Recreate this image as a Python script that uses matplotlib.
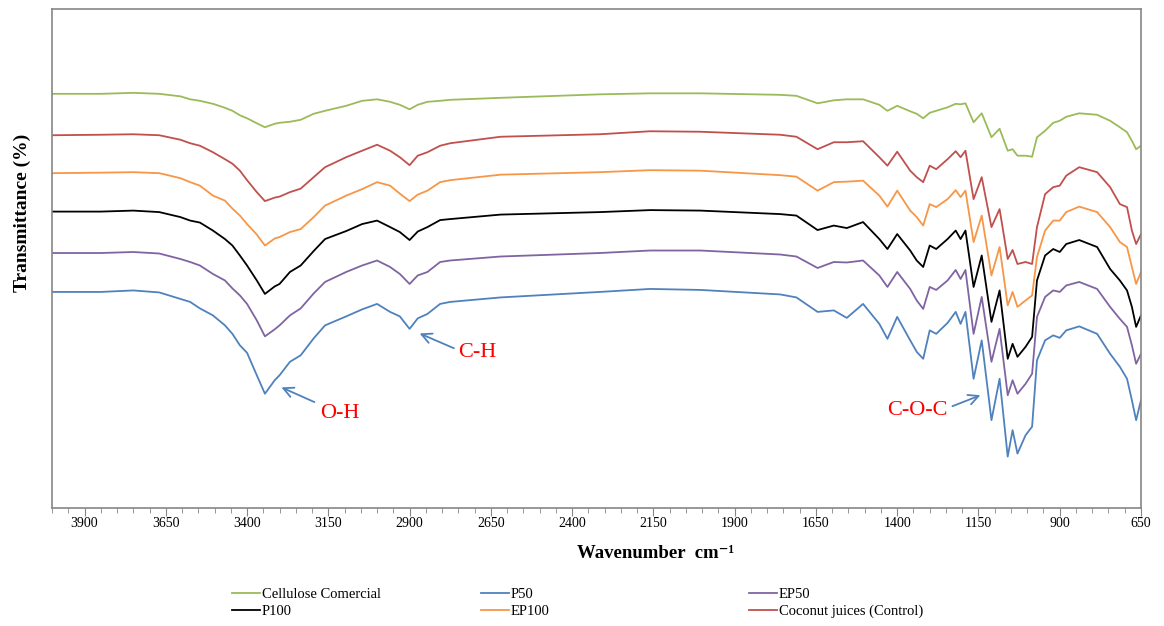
import numpy as np
import matplotlib.pyplot as plt
from matplotlib.ticker import MultipleLocator

plt.rcParams['font.family'] = ['Liberation Serif', 'DejaVu Serif']

wn = [4000, 3850, 3750, 3670, 3605, 3575, 3545, 3505, 3468, 3445,
      3422, 3400, 3370, 3345, 3315, 3300, 3268, 3235, 3195, 3160,
      3095, 3046, 3000, 2960, 2930, 2900, 2875, 2845, 2806, 2775,
      2620, 2315, 2160, 2005, 1760, 1710, 1645, 1595, 1555, 1505,
      1455, 1430, 1400, 1360, 1340, 1320, 1300, 1280, 1245, 1220,
      1205, 1190, 1165, 1140, 1110, 1085, 1060, 1045, 1030, 1005,
      985, 970, 945, 920, 900, 880, 840, 785, 745, 715,
      693, 678, 665, 650]

# transmittance (arbitrary offset scale)
cellulose = [83.0, 83.0, 83.2, 83.0, 82.5, 81.9, 81.6, 81.0, 80.2, 79.6,
             78.7, 78.1, 77.1, 76.3, 77.0, 77.2, 77.4, 77.8, 79.0, 79.6,
             80.6, 81.6, 81.9, 81.4, 80.8, 79.9, 80.8, 81.4, 81.6, 81.8,
             82.2, 82.9, 83.1, 83.1, 82.8, 82.6, 81.1, 81.7, 81.9, 81.9,
             80.8, 79.6, 80.6, 79.5, 79.0, 78.1, 79.2, 79.6, 80.3, 81.0,
             80.9, 81.1, 77.3, 79.1, 74.3, 76.0, 71.6, 71.9, 70.6, 70.6,
             70.4, 74.3, 75.6, 77.2, 77.6, 78.4, 79.1, 78.8, 77.6, 76.3,
             75.3, 73.6, 71.9, 72.6]
coconut = [74.7, 74.8, 74.9, 74.7, 73.8, 73.1, 72.6, 71.3, 69.9, 69.0,
           67.6, 65.7, 63.3, 61.5, 62.2, 62.4, 63.3, 64.0, 66.3, 68.3,
           70.3, 71.6, 72.8, 71.6, 70.3, 68.7, 70.6, 71.3, 72.6, 73.1,
           74.4, 74.9, 75.5, 75.4, 74.8, 74.4, 71.9, 73.3, 73.3, 73.5,
           70.3, 68.6, 71.4, 67.6, 66.3, 65.3, 68.6, 67.9, 69.9, 71.5,
           70.3, 71.6, 61.9, 66.3, 56.3, 59.9, 49.9, 51.7, 48.9, 49.3,
           48.9, 56.3, 62.9, 64.3, 64.6, 66.6, 68.3, 67.3, 64.3, 60.9,
           60.3, 55.6, 52.9, 54.9]
ep100 = [67.1, 67.2, 67.3, 67.1, 66.1, 65.3, 64.6, 62.6, 61.6, 60.0,
         58.6, 56.9, 54.8, 52.6, 54.0, 54.3, 55.3, 55.9, 58.3, 60.6,
         62.6, 63.9, 65.3, 64.6, 63.0, 61.5, 62.8, 63.6, 65.3, 65.7,
         66.8, 67.3, 67.7, 67.6, 66.7, 66.4, 63.6, 65.3, 65.4, 65.6,
         62.6, 60.4, 63.6, 59.6, 58.3, 56.6, 60.9, 60.3, 61.9, 63.7,
         62.3, 63.6, 53.3, 58.6, 46.6, 52.3, 40.6, 43.3, 40.3, 41.6,
         42.6, 50.3, 55.6, 57.6, 57.6, 59.3, 60.4, 59.3, 56.3, 53.3,
         52.3, 48.3, 44.9, 47.3]
p100 = [59.4, 59.4, 59.6, 59.3, 58.3, 57.6, 57.2, 55.6, 53.9, 52.6,
        50.6, 48.6, 45.6, 42.9, 44.4, 44.9, 47.3, 48.6, 51.5, 53.9,
        55.5, 56.9, 57.6, 56.3, 55.3, 53.7, 55.4, 56.3, 57.7, 57.9,
        58.8, 59.3, 59.7, 59.6, 58.9, 58.6, 55.7, 56.6, 56.1, 57.3,
        53.9, 51.9, 54.9, 51.6, 49.6, 48.3, 52.6, 51.9, 53.9, 55.6,
        53.9, 55.6, 44.3, 50.6, 37.3, 43.6, 29.9, 32.9, 30.3, 32.3,
        34.3, 45.6, 50.6, 51.9, 51.3, 52.9, 53.7, 52.3, 47.9, 45.6,
        43.6, 40.3, 36.3, 38.6]
ep50 = [51.1, 51.1, 51.3, 51.0, 49.9, 49.3, 48.6, 46.9, 45.6, 44.0,
        42.6, 40.9, 37.6, 34.4, 35.8, 36.6, 38.6, 40.0, 43.0, 45.3,
        47.3, 48.6, 49.6, 48.3, 46.9, 44.9, 46.6, 47.3, 49.3, 49.6,
        50.4, 51.1, 51.6, 51.6, 50.8, 50.4, 48.1, 49.3, 49.2, 49.6,
        46.6, 44.3, 47.3, 43.9, 41.6, 39.9, 44.3, 43.7, 45.6, 47.7,
        45.9, 47.7, 34.9, 42.3, 29.3, 35.9, 22.6, 25.6, 22.9, 24.9,
        26.9, 38.3, 42.3, 43.6, 43.3, 44.6, 45.3, 43.9, 40.3, 37.9,
        36.3, 32.6, 28.9, 30.9]
p50 = [43.3, 43.3, 43.6, 43.2, 41.9, 41.3, 40.0, 38.6, 36.6, 34.9,
       32.6, 31.1, 26.6, 22.9, 25.6, 26.6, 29.3, 30.6, 34.0, 36.6,
       38.4, 39.8, 40.9, 39.3, 38.4, 35.9, 38.0, 38.9, 40.9, 41.3,
       42.2, 43.3, 43.9, 43.7, 42.8, 42.2, 39.3, 39.6, 38.1, 40.9,
       36.9, 33.9, 38.3, 33.6, 31.3, 29.9, 35.6, 34.9, 37.1, 39.3,
       36.9, 39.3, 25.9, 33.6, 17.6, 25.9, 10.3, 15.6, 10.9, 14.6,
       16.3, 29.6, 33.6, 34.6, 34.1, 35.6, 36.4, 34.9, 30.9, 28.3,
       25.9, 21.6, 17.6, 21.6]

fig = plt.figure(figsize=(11.64, 6.26), dpi=100)
ax = fig.add_axes([52 / 1164, 1 - 508 / 626, 1089 / 1164, 499 / 626])

lc = ax.plot(wn, cellulose, color='#9BBB59', lw=1.3)[0]
lp50 = ax.plot(wn, p50, color='#4F81BD', lw=1.3)[0]
lep50 = ax.plot(wn, ep50, color='#8064A2', lw=1.3)[0]
lp100 = ax.plot(wn, p100, color='black', lw=1.3)[0]
lep100 = ax.plot(wn, ep100, color='#F79646', lw=1.3)[0]
lcoco = ax.plot(wn, coconut, color='#C0504D', lw=1.3)[0]

ax.set_xlim(4000, 650)
ax.set_ylim(0, 100)
ax.set_xticks(np.arange(650, 4000, 250))
ax.xaxis.set_minor_locator(MultipleLocator(50))
ax.set_yticks([])
ax.tick_params(axis='x', which='major', length=6, color='#868686', labelsize=10, pad=0.5)
ax.tick_params(axis='x', which='minor', length=3.5, color='#868686')
for s in ax.spines.values():
    s.set_color('#868686')
    s.set_linewidth(1.2)

# peak annotations
arrow = dict(arrowstyle='->', color='#4F81BD', lw=1.3, mutation_scale=18)
ax.annotate('', xy=(3302, 24.4), xytext=(3185, 21.0), arrowprops=arrow)
ax.text(3114, 19.0, 'O-H', color='red', fontsize=16, ha='center', va='center')
ax.annotate('', xy=(2877, 35.2), xytext=(2756, 31.8), arrowprops=arrow)
ax.text(2750, 31.2, 'C-H', color='red', fontsize=16, ha='left', va='center')
ax.annotate('', xy=(1136, 22.8), xytext=(1238, 20.2), arrowprops=arrow)
ax.text(1244, 19.6, 'C-O-C', color='red', fontsize=16, ha='right', va='center')

fig.text(22 / 1164, 1 - 213 / 626, 'Transmittance (%)', rotation=90,
         fontsize=14, fontweight='bold', ha='center', va='center')
fig.text(656 / 1164, 1 - 553 / 626, 'Wavenumber  cm⁻¹',
         fontsize=13.5, fontweight='bold', ha='center', va='center')

# legend: three columns, two rows
cols = [([lc, lp100], ['Cellulose Comercial', 'P100'], 232),
        ([lp50, lep100], ['P50', 'EP100'], 481),
        ([lep50, lcoco], ['EP50', 'Coconut juices (Control)'], 749)]
for handles, labels, xpx in cols:
    fig.legend(handles, labels, loc='upper left',
               bbox_to_anchor=(xpx / 1164, 1 - 588 / 626),
               frameon=False, fontsize=10.5, handlelength=1.9,
               handletextpad=0.15, labelspacing=0.25, borderpad=0,
               borderaxespad=0)

fig.savefig('out.png', dpi=100)
